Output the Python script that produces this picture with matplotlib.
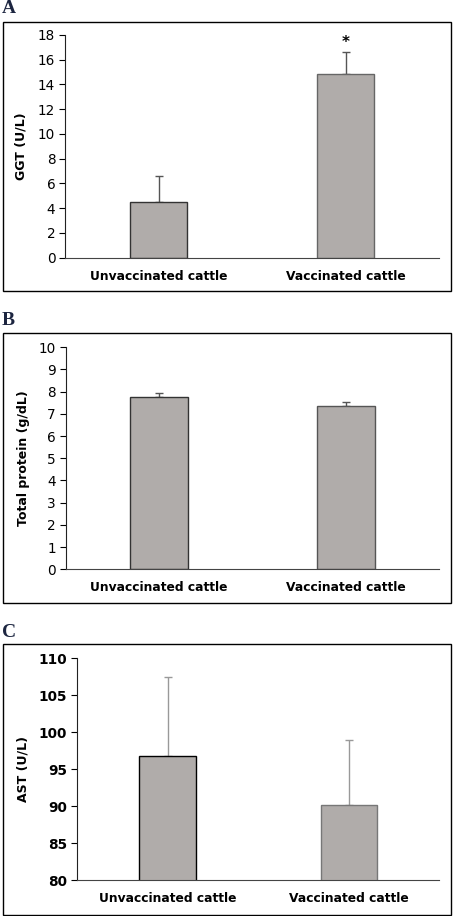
import matplotlib
matplotlib.use('Agg')
import matplotlib.pyplot as plt
from matplotlib.patches import Rectangle

# dados dos tres paineis
grupos = ['Unvaccinated cattle', 'Vaccinated cattle']

ggt = [4.5, 14.85]
ggt_err = [2.1, 1.75]

proteina = [7.75, 7.37]
proteina_err = [0.19, 0.17]

ast = [96.8, 90.2]
ast_err = [10.7, 8.7]

cor_barra = '#b0acaa'
plt.rcParams['font.family'] = 'DejaVu Sans'

fig = plt.figure(figsize=(4.54, 9.16), dpi=100)
W, H = 454, 916


def caixa(x0, y0, x1, y1):
    fig.patches.append(Rectangle((x0 / W, 1 - y1 / H), (x1 - x0) / W, (y1 - y0) / H,
                                 transform=fig.transFigure, fill=False,
                                 edgecolor='black', linewidth=1.0))


def painel(rect, valores, erros, ylim, ticks, ylabel, bold_ticks, cor_err, bordas):
    left, top, right, bottom = rect
    ax = fig.add_axes([left / W, 1 - bottom / H, (right - left) / W, (bottom - top) / H])
    x = range(len(grupos))
    ax.bar(x, valores, width=0.31, color=cor_barra, edgecolor=bordas, linewidth=1.0,
           zorder=2)
    ax.errorbar(x, valores, yerr=[[0, 0], erros], fmt='none', ecolor=cor_err,
                elinewidth=1.0, capsize=3, capthick=1.0, zorder=1)
    ax.set_xlim(-0.5, 1.5)
    ax.set_ylim(*ylim)
    ax.set_yticks(ticks)
    ax.set_xticks(list(x))
    ax.set_xticklabels(grupos, fontsize=8.8, fontweight='bold')
    ax.tick_params(axis='x', length=0, pad=8.5)
    ax.tick_params(axis='y', length=4, direction='out', pad=3)
    for t in ax.get_yticklabels():
        t.set_fontsize(9.8 if bold_ticks else 9.8)
        if bold_ticks:
            t.set_fontweight('bold')
    ax.spines['top'].set_visible(False)
    ax.spines['right'].set_visible(False)
    ax.spines['left'].set_color('#222222')
    ax.spines['bottom'].set_color('#444444')
    ax.set_ylabel(ylabel, fontsize=9, fontweight='bold')
    return ax


serif = dict(family='Liberation Serif', fontsize=14, fontweight='bold', color='#1c2540')

# A
caixa(3, 22, 451, 291)
fig.text(2 / W, 1 - 13 / H, 'A', **serif)
axA = painel((65, 35, 439, 257.7), ggt, ggt_err, (0, 18), range(0, 19, 2), 'GGT (U/L)',
             False, '#555555', ['#333333', '#666666'])
axA.yaxis.set_label_coords(-0.099, 0.5)
axA.text(1, ggt[1] + ggt_err[1] + 0.15, '*', ha='center', va='bottom', fontsize=11,
         fontweight='bold')

# B
caixa(3, 333, 451, 603)
fig.text(2 / W, 1 - 325 / H, 'B', **serif)
axB = painel((65.7, 347.3, 439, 569.3), proteina, proteina_err, (0, 10), range(0, 11),
             'Total protein (g/dL)', False, '#555555', ['#333333', '#555555'])
axB.yaxis.set_label_coords(-0.096, 0.5)

# C
caixa(3, 644, 451, 915)
fig.text(2 / W, 1 - 637 / H, 'C', **serif)
axC = painel((77, 658.3, 439.3, 880.3), ast, ast_err, (80, 110), range(80, 111, 5),
             'AST (U/L)', True, '#999999', ['#000000', '#777777'])
axC.yaxis.set_label_coords(-0.13, 0.5)

fig.savefig('out.png', dpi=100)
